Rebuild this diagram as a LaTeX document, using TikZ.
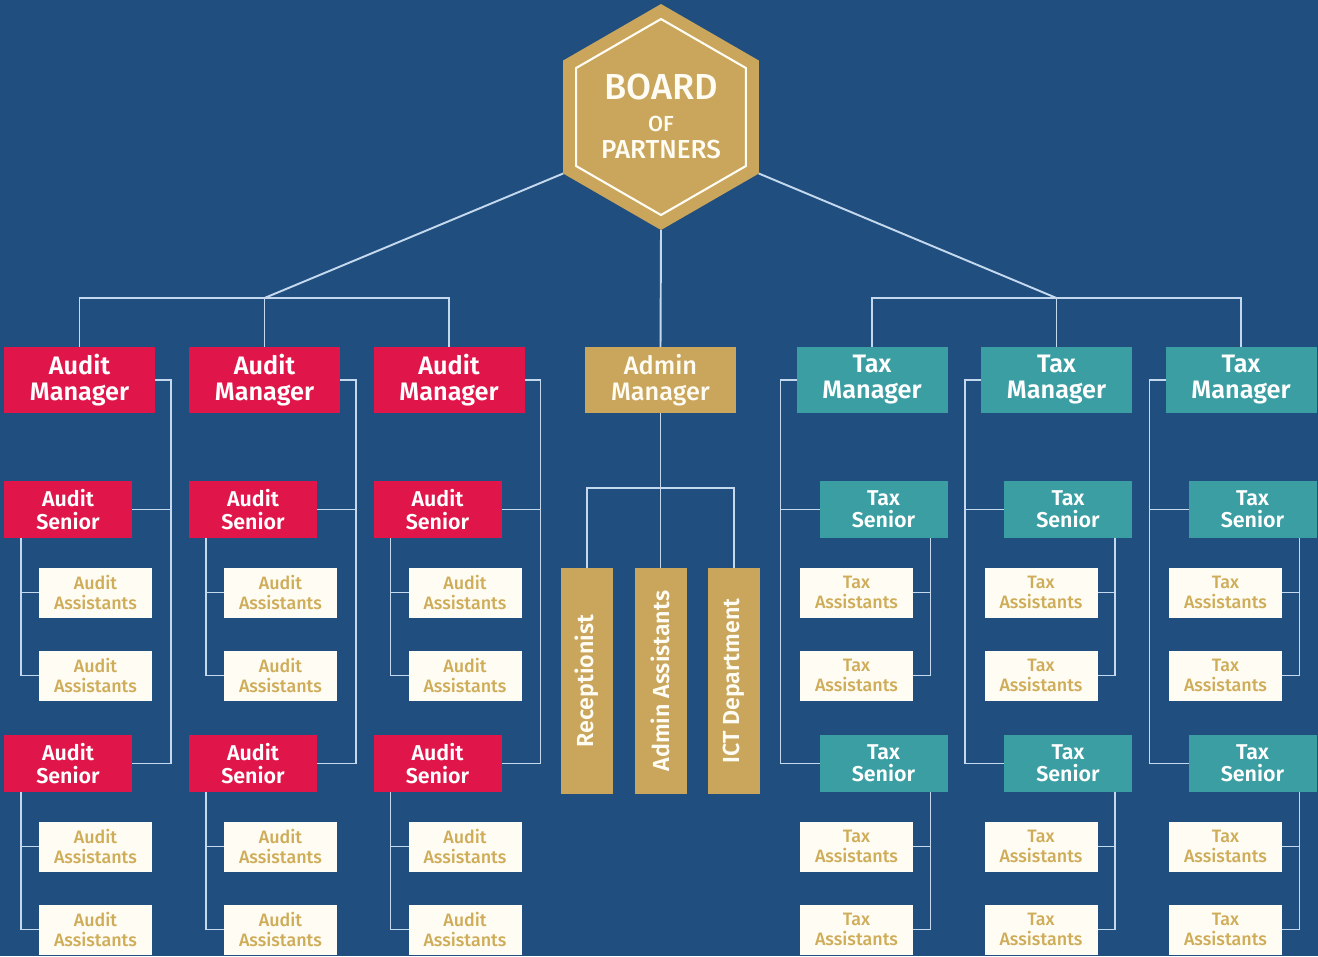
\documentclass[tikz,border=0pt]{standalone}
\usepackage{fontspec}
\setmainfont{Fira Sans}[BoldFont={Fira Sans SemiBold}]
\newfontfamily\medfont{Fira Sans Medium}
\usetikzlibrary{calc,shapes.geometric}

\definecolor{bgblue}{RGB}{32,78,127}
\definecolor{audred}{RGB}{224,22,74}
\definecolor{taxteal}{RGB}{58,158,163}
\definecolor{gold}{RGB}{201,166,92}
\definecolor{wirec}{RGB}{196,216,238}
\definecolor{cream}{RGB}{255,252,244}
\definecolor{goldtxt}{RGB}{206,172,88}

\tikzset{
  wire/.style={draw=wirec, line width=0.55pt},
  box/.style={inner sep=0pt, outer sep=0pt, align=center},
  mgr/.style={box, minimum width=15.1mm, minimum height=6.6mm, text=white,
    font=\bfseries\fontsize{7.2}{7.4}\selectfont},
  snr/.style={box, minimum width=12.8mm, minimum height=5.7mm, text=white,
    font=\bfseries\fontsize{6.1}{6.3}\selectfont},
  asst/.style={box, fill=cream, minimum width=11.3mm, minimum height=5mm,
    text=goldtxt, font=\medfont\fontsize{5.1}{5.7}\selectfont},
  adm/.style={box, fill=gold, minimum width=22.6mm, minimum height=5.2mm,
    rotate=90, text=cream, font=\bfseries\fontsize{6.6}{7}\selectfont},
  board/.style={regular polygon, regular polygon sides=6, shape border rotate=30,
    inner sep=0pt, outer sep=0pt},
}

\begin{document}
\begin{tikzpicture}[x=0.1mm,y=-0.1mm]
\fill[bgblue] (0,0) rectangle (1318,956);
\useasboundingbox (0,0) rectangle (1318,956);

% board
\node[board, fill=gold, minimum size=22.6mm] (bop) at (661,117) {};
\node[board, draw=cream, line width=0.6pt, minimum size=19.6mm] (bopin) at (bop) {};
\node[box, text=cream, font=\medfont\fontsize{10.3}{11}\selectfont] (bop1) at (661,87) {BOARD};
\node[box, text=cream, font=\medfont\fontsize{6.2}{7}\selectfont] (bop2) at (661,124) {OF};
\node[box, text=cream, font=\medfont\fontsize{7.4}{8}\selectfont] (bop3) at (661,149) {PARTNERS};

% audit
\foreach \i/\x in {1/79.5,2/264.5,3/449}{
  \node[mgr, fill=audred] (am\i) at (\x,380) {Audit\\Manager};
  \node[snr, fill=audred] (as\i1) at (\x-11.5,509.5) {Audit\\Senior};
  \node[snr, fill=audred] (as\i2) at (\x-11.5,763.5) {Audit\\Senior};
  \foreach \j/\y in {1/592.5,2/675.5,3/846.5,4/929.5}
    \node[asst] (aa\i\j) at (\x+16,\y) {Audit\\Assistants};
  \coordinate (ar\i) at ($(am\i.east)+(16,0)$);
  \draw[wire] (am\i.east) -- (ar\i) |- (as\i2.east);
  \draw[wire] (as\i1.east) -- (ar\i |- as\i1.east);
  \foreach \k/\a/\b in {1/1/2,2/3/4}{
    \coordinate (sr\i\k) at ($(as\i\k.south west)+(17,0)$);
    \draw[wire] (sr\i\k) |- (aa\i\b.west);
    \draw[wire] (aa\i\a.west) -- (sr\i\k |- aa\i\a.west);
  }
}

% tax
\foreach \i/\x in {1/872,2/1056.5,3/1241}{
  \node[mgr, fill=taxteal] (tm\i) at (\x,380) {Tax\\Manager};
  \node[snr, fill=taxteal] (ts\i1) at (\x+11.5,509.5) {Tax\\Senior};
  \node[snr, fill=taxteal] (ts\i2) at (\x+11.5,763.5) {Tax\\Senior};
  \foreach \j/\y in {1/592.5,2/675.5,3/846.5,4/929.5}
    \node[asst] (ta\i\j) at (\x-15.5,\y) {Tax\\Assistants};
  \coordinate (tr\i) at ($(tm\i.west)+(-16,0)$);
  \draw[wire] (tm\i.west) -- (tr\i) |- (ts\i2.west);
  \draw[wire] (ts\i1.west) -- (tr\i |- ts\i1.west);
  \foreach \k/\a/\b in {1/1/2,2/3/4}{
    \coordinate (sl\i\k) at ($(ts\i\k.south east)+(-17,0)$);
    \draw[wire] (sl\i\k) |- (ta\i\b.east);
    \draw[wire] (ta\i\a.east) -- (sl\i\k |- ta\i\a.east);
  }
}

% admin
\node[mgr, fill=gold, text=cream, font=\medfont\fontsize{7.2}{7.4}\selectfont] (dm) at (660.5,380) {Admin\\Manager};
\node[adm] (dr) at (587,681) {Receptionist};
\node[adm] (da) at (660.5,681) {Admin Assistants};
\node[adm] (di) at (734,681) {ICT Department};
\coordinate (dj) at (660.5,488);
\draw[wire] (dm.south) -- (da.east);
\draw[wire] (dr.east) |- (dj) -| (di.east);

% board links
\coordinate (jl) at (264.5,298);
\coordinate (jr) at (1056.5,298);
\draw[wire] (bop.210) -- (jl);
\draw[wire] (am1.north) |- (jl) -| (am3.north);
\draw[wire] (jl) -- (am2.north);
\draw[wire] (bop.330) -- (jr);
\draw[wire] (tm1.north) |- (jr) -| (tm3.north);
\draw[wire] (jr) -- (tm2.north);
\draw[wire] (bop.south) -- (dm.north);

\end{tikzpicture}
\end{document}
